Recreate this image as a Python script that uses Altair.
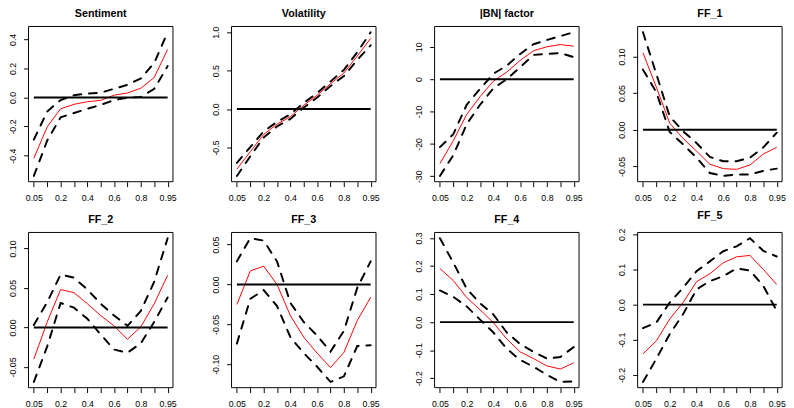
import altair as alt
import pandas as pd

# x positions are the quantile index (equally spaced), labelled by quantile
quantiles = ["0.05", "0.1", "0.2", "0.3", "0.4", "0.5", "0.6", "0.7", "0.8", "0.9", "0.95"]
tick_labels = ["0.05", "", "0.2", "", "0.4", "", "0.6", "", "0.8", "", "0.95"]
idx = list(range(1, 12))

titles = ["Sentiment", "Volatility", "|BN| factor", "FF_1", "FF_2", "FF_3", "FF_4", "FF_5"]

sent_est = [-0.418, -0.202, -0.078, -0.047, -0.029, -0.020, 0.016, 0.031, 0.064, 0.138, 0.331]
sent_up = [-0.290, -0.096, -0.018, 0.016, 0.027, 0.033, 0.060, 0.087, 0.131, 0.238, 0.449]
sent_lo = [-0.540, -0.296, -0.136, -0.107, -0.078, -0.051, -0.018, -0.002, 0.004, 0.060, 0.216]

vol_est = [-0.78, -0.555, -0.33, -0.196, -0.098, 0.05, 0.18, 0.33, 0.47, 0.69, 0.92]
vol_up = [-0.70, -0.495, -0.29, -0.166, -0.068, 0.08, 0.21, 0.36, 0.51, 0.74, 1.00]
vol_lo = [-0.87, -0.615, -0.37, -0.226, -0.128, 0.02, 0.15, 0.30, 0.43, 0.64, 0.83]

bn_est = [-26.1, -19.0, -10.9, -5.4, -0.6, 2.2, 5.8, 8.8, 10.0, 10.7, 10.2]
bn_up = [-21.0, -17.0, -7.9, -3.0, 1.7, 4.2, 7.8, 10.8, 12.1, 13.3, 14.5]
bn_lo = [-29.9, -23.5, -13.9, -7.9, -2.8, 0.0, 3.7, 7.5, 7.8, 8.1, 6.8]

ff1_est = [0.105, 0.058, 0.009, -0.012, -0.029, -0.047, -0.053, -0.054, -0.048, -0.033, -0.024]
ff1_up = [0.133, 0.076, 0.018, -0.002, -0.018, -0.037, -0.043, -0.043, -0.038, -0.024, -0.004]
ff1_lo = [0.082, 0.051, -0.003, -0.020, -0.038, -0.059, -0.063, -0.061, -0.061, -0.056, -0.053]

ff2_est = [-0.040, 0.007, 0.048, 0.044, 0.030, 0.015, 0.002, -0.015, 0.001, 0.030, 0.066]
ff2_up = [0.003, 0.032, 0.067, 0.063, 0.048, 0.030, 0.015, 0.002, 0.021, 0.058, 0.113]
ff2_lo = [-0.069, -0.024, 0.031, 0.025, 0.011, -0.009, -0.028, -0.032, -0.020, 0.007, 0.038]

ff3_est = [-0.025, 0.017, 0.023, 0.000, -0.039, -0.066, -0.086, -0.104, -0.085, -0.045, -0.016]
ff3_up = [0.029, 0.058, 0.055, 0.029, -0.023, -0.047, -0.064, -0.084, -0.058, -0.004, 0.029]
ff3_lo = [-0.074, -0.018, -0.007, -0.027, -0.066, -0.086, -0.103, -0.122, -0.115, -0.077, -0.076]

ff4_est = [0.191, 0.148, 0.088, 0.044, -0.002, -0.060, -0.106, -0.130, -0.156, -0.167, -0.145]
ff4_up = [0.299, 0.212, 0.119, 0.067, 0.027, -0.037, -0.078, -0.106, -0.130, -0.124, -0.089]
ff4_lo = [0.113, 0.090, 0.056, 0.009, -0.037, -0.095, -0.135, -0.159, -0.188, -0.213, -0.211]

ff5_est = [-0.140, -0.103, -0.041, 0.006, 0.065, 0.088, 0.119, 0.136, 0.140, 0.100, 0.057]
ff5_up = [-0.067, -0.051, 0.006, 0.048, 0.095, 0.123, 0.152, 0.166, 0.189, 0.153, 0.137]
ff5_lo = [-0.220, -0.154, -0.084, -0.027, 0.043, 0.067, 0.081, 0.103, 0.097, 0.053, -0.018]

y_ticks = [
    [-0.4, -0.2, 0.0, 0.2, 0.4],
    [-0.5, 0.0, 0.5, 1.0],
    [-30, -20, -10, 0, 10],
    [-0.05, 0.0, 0.05, 0.10],
    [-0.05, 0.0, 0.05, 0.10],
    [-0.10, -0.05, 0.0, 0.05],
    [-0.2, -0.1, 0.0, 0.1, 0.2, 0.3],
    [-0.2, -0.1, 0.0, 0.1, 0.2],
]
y_formats = [".1f", ".1f", "d", ".2f", ".2f", ".2f", ".1f", ".1f"]

series = [
    (sent_est, sent_up, sent_lo),
    (vol_est, vol_up, vol_lo),
    (bn_est, bn_up, bn_lo),
    (ff1_est, ff1_up, ff1_lo),
    (ff2_est, ff2_up, ff2_lo),
    (ff3_est, ff3_up, ff3_lo),
    (ff4_est, ff4_up, ff4_lo),
    (ff5_est, ff5_up, ff5_lo),
]

FONT = "Liberation Sans"
W, H = 148, 159
x_label_expr = "[" + ",".join("'%s'" % t for t in tick_labels) + "][datum.value - 1]"


def panel(title, est, up, lo, ticks, fmt):
    df = pd.DataFrame({
        "i": idx * 4,
        "v": est + up + lo + [0.0] * 11,
        "s": ["est"] * 11 + ["up"] * 11 + ["lo"] * 11 + ["zero"] * 11,
    })
    allv = est + up + lo
    vmin, vmax = min(allv), max(allv)
    pad = 0.04 * (vmax - vmin)
    x = alt.X("i:Q", title=None,
              scale=alt.Scale(domain=[0.6, 11.4], nice=False, zero=False),
              axis=alt.Axis(values=idx, labelExpr=x_label_expr, tickSize=5,
                            labelPadding=7, labelFontSize=9, labelFont=FONT,
                            labelOverlap=False, labelFlush=False,
                            domain=False, grid=False, tickColor="black",
                            labelColor="black", tickWidth=1,
                            minExtent=21, maxExtent=21))
    y = alt.Y("v:Q", title=None,
              scale=alt.Scale(domain=[vmin - pad, vmax + pad], nice=False, zero=False),
              axis=alt.Axis(values=ticks,
                            labelExpr="replace(format(datum.value, '%s'), '\u2212', '-')" % fmt,
                            tickSize=5, labelPadding=6, labelFontSize=9, labelFont=FONT,
                            labelAngle=270, labelAlign="center", labelBaseline="bottom",
                            labelOverlap=False, labelFlush=False,
                            domain=False, grid=False, tickColor="black",
                            labelColor="black", tickWidth=1,
                            minExtent=21, maxExtent=21))
    base = alt.Chart(df).encode(x=x, y=y)
    red = base.transform_filter("datum.s == 'est'").mark_line(color="#FF0000", strokeWidth=1)
    upper = base.transform_filter("datum.s == 'up'").mark_line(
        color="black", strokeWidth=2, strokeDash=[8, 8], strokeCap="round")
    lower = base.transform_filter("datum.s == 'lo'").mark_line(
        color="black", strokeWidth=2, strokeDash=[8, 8], strokeCap="round")
    zero = base.transform_filter("datum.s == 'zero'").mark_line(color="black", strokeWidth=2)
    frame = alt.Chart(pd.DataFrame({"f": [0]})).mark_rect(
        fillOpacity=0, stroke="black", strokeWidth=1
    ).encode(x=alt.value(0), x2=alt.value(W), y=alt.value(0), y2=alt.value(H))
    return alt.layer(red, upper, lower, zero, frame).properties(
        width=W, height=H,
        title=alt.TitleParams(text=title, fontSize=11, fontWeight="bold", font=FONT,
                              anchor="middle", frame="group", offset=7,
                              color="black"),
    )


panels = [panel(titles[k], *series[k], y_ticks[k], y_formats[k]) for k in range(8)]
row1 = alt.hconcat(*panels[:4], spacing=35)
row2 = alt.hconcat(*panels[4:], spacing=35)
chart = alt.vconcat(row1, row2, spacing=8).properties(
    padding={"left": 0, "top": -5, "right": 0, "bottom": 0},
    background="white",
).configure_view(stroke=None)

chart.save("out.html", embed_options={"renderer": "svg", "actions": False})
